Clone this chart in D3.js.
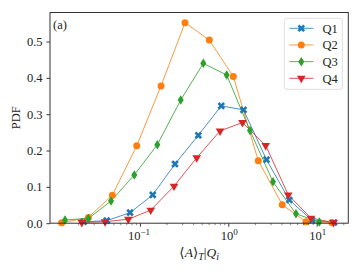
<!DOCTYPE html>
<html>
<head>
<meta charset="utf-8">
<script src="https://cdn.jsdelivr.net/npm/d3@7"></script>
<style>
  body { margin: 0; background: #fff; }
  svg text { font-family: "Liberation Serif", "DejaVu Serif", serif; fill: #222; }
</style>
</head>
<body>
<div id="chart"></div>
<script>
// bin centres (log-spaced) and PDF values
const q1X = [0.0231, 0.0421, 0.0773, 0.1396, 0.2495, 0.4577, 0.833, 1.486, 2.704, 4.90, 8.85, 15.7];
const q1Y = [0.004, 0.007, 0.029, 0.078, 0.163, 0.242, 0.323, 0.312, 0.175, 0.064, 0.008, 0.002];
const q2X = [0.0130, 0.0261, 0.0487, 0.0920, 0.1733, 0.3237, 0.6096, 1.139, 2.184, 4.08, 7.57, 14.8];
const q2Y = [0.001, 0.016, 0.077, 0.213, 0.378, 0.552, 0.504, 0.404, 0.172, 0.051, 0.004, 0.002];
const q3X = [0.0142, 0.0261, 0.0471, 0.0864, 0.1573, 0.2894, 0.5214, 0.959, 1.760, 3.204, 5.83, 10.7];
const q3Y = [0.009, 0.013, 0.061, 0.133, 0.216, 0.339, 0.440, 0.408, 0.255, 0.114, 0.026, 0.003];
const q4X = [0.0220, 0.0403, 0.0739, 0.1325, 0.2431, 0.4390, 0.806, 1.447, 2.649, 4.77, 8.62, 15.5];
const q4Y = [0.002, 0.004, 0.011, 0.036, 0.102, 0.180, 0.254, 0.277, 0.214, 0.078, 0.014, 0.002];

const seriesNames = ["Q1", "Q2", "Q3", "Q4"];
const seriesColors = ["#1f77b4", "#ff7f0e", "#2ca02c", "#d62728"];
const yTicks = [0.0, 0.1, 0.2, 0.3, 0.4, 0.5];
const xMajor = [0.1, 1, 10];
const xMajorExp = ["\u22121", "0", "1"];

const W = 362, H = 272;
const plotL = 50, plotR = 348.3, plotT = 12.5, plotB = 223.2;

const svg = d3.select("#chart").append("svg")
    .attr("width", W)
    .attr("height", H);

const x = d3.scaleLog()
    .domain([0.0096, 22.8])
    .range([plotL, plotR]);

const y = d3.scaleLinear()
    .domain([0, 0.58])
    .range([plotB, plotT]);

// minor ticks for the log axis
const xMinor = [];
[0.01, 0.1, 1, 10].forEach(dec => {
    for (let k = 2; k <= 9; k++) {
        const v = dec * k;
        if (v > x.domain()[0] && v < x.domain()[1]) xMinor.push(v);
    }
});

const series = seriesNames.map((name, i) => ({
    name: name,
    color: seriesColors[i],
    values: [q1X, q2X, q3X, q4X][i].map((xv, j) => ({ x: xv, y: [q1Y, q2Y, q3Y, q4Y][i][j] }))
}));

// marker shapes like matplotlib X, o, d, v
function marker(sel, i) {
    if (i === 0) {
        sel.append("path").attr("d", d3.symbol().type(d3.symbolCross).size(36)()).attr("transform", "rotate(45)");
    } else if (i === 1) {
        sel.append("circle").attr("r", 3.5);
    } else if (i === 2) {
        sel.append("path").attr("d", d3.symbol().type(d3.symbolDiamond).size(26)()).attr("transform", "scale(1.1,1)");
    } else {
        sel.append("path").attr("d", d3.symbol().type(d3.symbolTriangle).size(32)()).attr("transform", "rotate(180)");
    }
}

const plot = svg.append("g");

const line = d3.line()
    .x(d => x(d.x))
    .y(d => y(d.y));

series.forEach((s, i) => {
    plot.append("path")
        .datum(s.values)
        .attr("fill", "none")
        .attr("stroke", s.color)
        .attr("stroke-opacity", 0.8)
        .attr("stroke-width", 1)
        .attr("d", line);
});

series.forEach((s, i) => {
    plot.selectAll(null)
        .data(s.values)
        .enter()
        .append("g")
        .attr("transform", d => "translate(" + x(d.x) + "," + y(d.y) + ")")
        .attr("fill", s.color)
        .each(function () { marker(d3.select(this), i); });
});

// axes
svg.append("g")
    .attr("transform", "translate(0," + plotB + ")")
    .call(d3.axisBottom(x).tickValues(xMajor).tickSize(3.5).tickFormat(""));
svg.append("g")
    .attr("transform", "translate(0," + plotB + ")")
    .call(d3.axisBottom(x).tickValues(xMinor).tickSize(2).tickFormat(""))
    .call(g => g.selectAll("line").attr("stroke-width", 0.6));

xMajor.forEach((v, i) => {
    const t = svg.append("text")
        .attr("x", x(v) + (i === 0 ? -1 : 1))
        .attr("y", 239.5)
        .attr("text-anchor", "middle")
        .style("font-size", "12.5px");
    t.append("tspan").text("10");
    t.append("tspan").attr("dy", -5).style("font-size", "9px").text(xMajorExp[i]);
});

svg.append("g")
    .attr("transform", "translate(" + plotL + ",0)")
    .call(d3.axisLeft(y).tickValues(yTicks).tickSize(3.5).tickPadding(4).tickFormat(d3.format(".1f")))
    .call(g => g.selectAll("text").style("font-size", "12.5px").style("font-family", "Liberation Serif, serif").attr("fill", "#222"));

svg.selectAll(".domain").remove();
svg.selectAll(".tick line").attr("stroke", "#333");

// frame
svg.append("rect")
    .attr("x", plotL)
    .attr("y", plotT)
    .attr("width", plotR - plotL)
    .attr("height", plotB - plotT)
    .attr("fill", "none")
    .attr("stroke", "#333")
    .attr("stroke-width", 1);

// axis labels
svg.append("text")
    .attr("transform", "translate(20," + ((plotT + plotB) / 2) + ") rotate(-90)")
    .attr("text-anchor", "middle")
    .style("font-size", "12.5px")
    .text("PDF");

const xl = svg.append("text")
    .attr("x", (plotL + plotR) / 2)
    .attr("y", 257)
    .attr("text-anchor", "middle")
    .style("font-size", "13.5px");
xl.append("tspan").text("\u27E8");
xl.append("tspan").style("font-style", "italic").text("A");
xl.append("tspan").text("\u27E9");
xl.append("tspan").attr("dy", 3).style("font-style", "italic").style("font-size", "10px").text("T");
xl.append("tspan").attr("dy", -3).text("|");
xl.append("tspan").style("font-style", "italic").text("Q");
xl.append("tspan").attr("dy", 3).style("font-style", "italic").style("font-size", "10px").text("i");

svg.append("text")
    .attr("x", 53)
    .attr("y", 28.5)
    .style("font-size", "12.5px")
    .text("(a)");

// legend
const legend = svg.append("g");
legend.append("rect")
    .attr("x", 284.3)
    .attr("y", 18.3)
    .attr("width", 58)
    .attr("height", 71)
    .attr("rx", 2.5)
    .attr("fill", "#fff")
    .attr("fill-opacity", 0.8)
    .attr("stroke", "#d6d6d6")
    .attr("stroke-width", 0.8);

const legendY = d3.scalePoint()
    .domain(seriesNames)
    .range([28.3, 78.3]);

series.forEach((s, i) => {
    const ly = legendY(s.name);
    legend.append("line")
        .attr("x1", 289.3).attr("x2", 313.3)
        .attr("y1", ly).attr("y2", ly)
        .attr("stroke", s.color)
        .attr("stroke-opacity", 0.8)
        .attr("stroke-width", 1);
    const m = legend.append("g")
        .attr("transform", "translate(301.3," + ly + ")")
        .attr("fill", s.color);
    marker(m, i);
    legend.append("text")
        .attr("x", 322.5)
        .attr("y", ly + 4.3)
        .style("font-size", "12.5px")
        .text(s.name);
});
</script>
</body>
</html>
